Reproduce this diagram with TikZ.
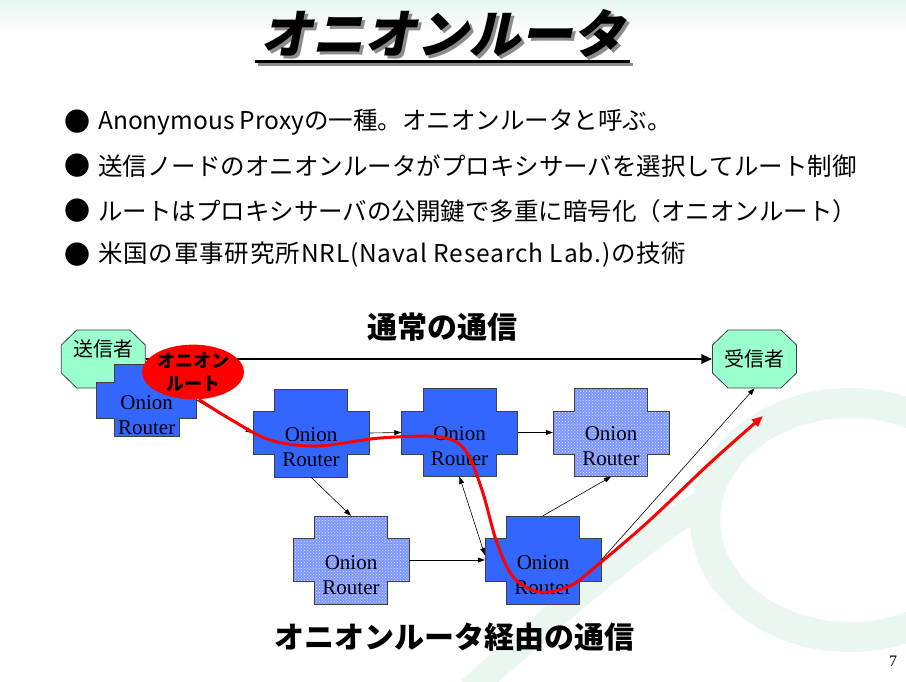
\documentclass[tikz,border=0pt]{standalone}
\usepackage{fontspec}
\setmainfont{Liberation Serif}
\newfontfamily\jp{Noto Sans CJK JP}
\newfontfamily\jptitle[FakeSlant=0.22]{Noto Sans CJK JP}
\usetikzlibrary{arrows.meta,patterns,shapes.geometric}
\definecolor{darkr}{RGB}{51,102,255}
\definecolor{lightr}{RGB}{125,150,255}
\definecolor{mint}{RGB}{153,255,204}
\definecolor{swirlc}{RGB}{234,247,241}
\definecolor{bandc}{RGB}{230,245,239}
\newcommand{\crosspath}[7]{%
  \path[#7] (#1-#5,#2-#4) -- (#1+#5,#2-#4) -- (#1+#5,#2-#6) -- (#1+#3,#2-#6) -- (#1+#3,#2+#6) -- (#1+#5,#2+#6) -- (#1+#5,#2+#4) -- (#1-#5,#2+#4) -- (#1-#5,#2+#6) -- (#1-#3,#2+#6) -- (#1-#3,#2-#6) -- (#1-#5,#2-#6) -- cycle;}
\newcommand{\octpath}[2]{%
  \path[octo] (#1-26.5,#2-29) -- (#1+26.5,#2-29) -- (#1+42,#2-14) -- (#1+42,#2+14) -- (#1+26.5,#2+29) -- (#1-26.5,#2+29) -- (#1-42,#2+14) -- (#1-42,#2-14) -- cycle;}
\tikzset{
  darkfill/.style={fill=darkr, draw=black!75, line width=0.8pt},
  lightfill/.style={preaction={fill=lightr}, pattern=crosshatch dots, pattern color=white!75!lightr, draw=black!75, line width=0.8pt},
  octo/.style={fill=mint, draw=black!75, line width=0.8pt},
  rbox/.style={rectangle, draw=none, inner sep=0pt, minimum width=116pt, minimum height=88pt},
  rtext/.style={font=\fontsize{21}{25}\selectfont, align=center, inner sep=0pt},
  thin/.style={draw=black, line width=0.6pt, -{Triangle[length=7pt,width=5pt]}},
  bul/.style={font=\jp\fontsize{26}{30}\selectfont, inner sep=0pt, anchor=west},
  btext/.style={font=\jp\fontsize{24.5}{28}\selectfont, inner sep=0pt, anchor=west},
  head/.style={font=\jp\bfseries\fontsize{30}{34}\selectfont, inner sep=0pt},
}
\begin{document}
\begin{tikzpicture}[x=1pt,y=-1pt]
\useasboundingbox (0,0) rectangle (906,681);
\fill[white] (0,0) rectangle (906,681);
% top band
\shade[top color=bandc, bottom color=white] (0,0) rectangle (906,34);
% background swirl
\draw[swirlc, line width=30pt] (850,520) ellipse [x radius=145, y radius=117];
\draw[swirlc, line width=26pt] (470,690) .. controls (560,610) and (640,540) .. (708,500);
% title (with shadow inside the same node)
\node[font=\jptitle\bfseries\fontsize{52}{52}\selectfont, inner sep=0pt] (title) at (442,35) {\rlap{\kern3pt\raisebox{-3pt}{\color{black!45}オニオンルータ}}オニオンルータ};
\coordinate (ulA) at (258,64); \coordinate (ulB) at (633,64);
\draw[black!45, line width=3pt] (ulA) -- (ulB);
\coordinate (ulC) at (255,61); \coordinate (ulD) at (630,61);
\draw[line width=3pt] (ulC) -- (ulD);
% bullets
\node[bul] (b1) at (64,122) {●};
\node[btext] (t1) at (98,122) {Anonymous Proxyの一種。オニオンルータと呼ぶ。};
\node[bul] (b2) at (64,166) {●};
\node[btext] (t2) at (98,166) {送信ノードのオニオンルータがプロキシサーバを選択してルート制御};
\node[bul] (b3) at (64,211) {●};
\node[btext] (t3) at (98,211) {ルートはプロキシサーバの公開鍵で多重に暗号化（オニオンルート）};
\node[bul] (b4) at (64,255) {●};
\node[btext] (t4) at (98,255) {\addfontfeature{LetterSpace=3.5}米国の軍事研究所NRL(Naval Research Lab.)の技術};
% headings
\node[head] (normal) at (442,327) {通常の通信};
\node[head] (viaonion) at (454,637) {オニオンルータ経由の通信};
% sender / receiver
\octpath{103.3}{359}
\node[rectangle, inner sep=0pt, minimum width=84pt, minimum height=58pt] (sender) at (103.3,359) {};
\node[font=\jp\fontsize{20}{22}\selectfont, inner sep=0pt] (sendertext) at (103,348.5) {送信者};
\octpath{754.5}{359}
\node[rectangle, inner sep=0pt, minimum width=84pt, minimum height=58pt, font=\jp\fontsize{20}{22}\selectfont] (receiver) at (754.5,359) {受信者};
% router 1
\crosspath{146.7}{400.3}{50}{36.3}{32.5}{18}{darkfill}
\node[rectangle, inner sep=0pt, minimum width=100pt, minimum height=72.6pt] (r1) at (146.7,400.3) {};
\node[rtext] (r1t) at (146.7,415) {Onion\\Router};
% routers
\crosspath{311}{433}{58}{44}{36.5}{21.5}{darkfill}
\node[rbox] (r2) at (311,433) {};
\node[rtext] (r2t) at (311,447) {Onion\\Router};
\crosspath{459.5}{432.5}{58}{44}{36.5}{21.5}{darkfill}
\node[rbox] (r3) at (459.5,432.5) {};
\node[rtext] (r3t) at (459.5,446) {Onion\\Router};
\crosspath{611}{432.5}{58}{44}{36.5}{21.5}{lightfill}
\node[rbox] (r4) at (611,432.5) {};
\node[rtext] (r4t) at (611,446) {Onion\\Router};
\crosspath{351}{560}{58}{44}{36.5}{21.5}{lightfill}
\node[rbox] (r6) at (351,560) {};
\node[rtext] (r6t) at (351,575) {Onion\\Router};
\crosspath{543}{560}{58}{44}{36.5}{21.5}{darkfill}
\node[rbox] (r5) at (543,560) {};
\node[rtext] (r5t) at (543,575) {Onion\\Router};
% thin arrows
\draw[thin] (r1.east) -- (r2.west);
\draw[thin] (r2.east) -- (r3.west);
\draw[thin] (r3.east) -- (r4.west);
\draw[thin] (r2.south) -- (r6.north);
\draw[thin] (r6.east) -- (r5.west);
\draw[thin, {Triangle[length=7pt,width=5pt]}-{Triangle[length=7pt,width=5pt]}] (r3.south) -- ([yshift=5pt]r5.west);
\draw[thin] (r5.north) -- (r4.south);
\draw[thin] (r5.east) -- (receiver.south);
% normal route
\draw[line width=2.8pt, -{Triangle[length=11pt,width=9pt]}] (sender.east) -- (receiver.west);
% onion route label
\node[ellipse, fill=red, inner sep=0pt, minimum width=88pt, minimum height=48pt, align=center, font=\jp\bfseries\fontsize{18}{23}\selectfont] (route) at (193,372) {オニオン\\ルート};
% red route
\coordinate (redend) at (763,416);
\draw[red, line width=3pt, -{Triangle[length=11pt,width=9pt]}] plot[smooth, tension=0.55] coordinates {(route.-78) (230,419) (270,440) (317,446) (380,438) (440,437) (465,450) (482,490) (497,543) (514,578) (540,592) (570,586) (600,563) (650,520) (710,463) (redend)};
% page number
\node[font=\fontsize{16}{18}\selectfont, inner sep=0pt] (pagenum) at (893,661) {7};
\end{tikzpicture}
\end{document}
